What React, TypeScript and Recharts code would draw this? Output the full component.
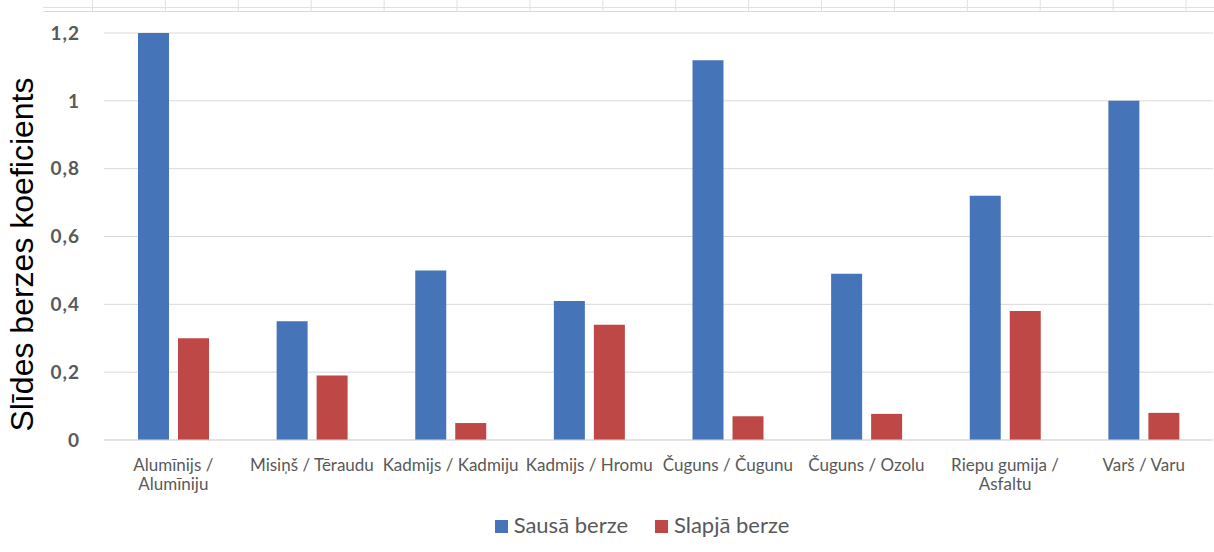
import { Bar, BarChart, CartesianGrid, Label, Legend, XAxis, YAxis } from "recharts"

const categories = [
  "Alumīnijs / Alumīniju",
  "Misiņš / Tēraudu",
  "Kadmijs / Kadmiju",
  "Kadmijs / Hromu",
  "Čuguns / Čugunu",
  "Čuguns / Ozolu",
  "Riepu gumija / Asfaltu",
  "Varš / Varu",
]
const sausa = [1.2, 0.35, 0.5, 0.41, 1.12, 0.49, 0.72, 1.0]
const slapja = [0.3, 0.19, 0.05, 0.34, 0.07, 0.077, 0.38, 0.08]
const yTicks = [0, 0.2, 0.4, 0.6, 0.8, 1, 1.2]
const seriesNames = ["Sausā berze", "Slapjā berze"]
const colors = ["#4574B8", "#BD4845"]

const data = categories.map((name, i) => ({ name, sausa: sausa[i], slapja: slapja[i] }))

const font = "Lato, 'Open Sans', sans-serif"

// spreadsheet cell lines peeking in at the top of the screenshot
const cellCols = Array.from({ length: 16 }, (_, i) => i)

function CategoryTick(props: any) {
  const { x, y, payload } = props
  const label: string = payload.value
  let lines = [label]
  if (label.length > 18) {
    const idx = label.indexOf("/ ")
    lines = [label.slice(0, idx + 1), label.slice(idx + 2)]
  }
  return (
    <text x={x} y={y + 29} textAnchor="middle" fill="#595959" fontSize={17} fontFamily={font}>
      {lines.map((l, i) => (
        <tspan key={i} x={x} dy={i === 0 ? 0 : 19}>
          {l}
        </tspan>
      ))}
    </text>
  )
}

function LegendBox() {
  return (
    <div
      style={{
        width: 1214,
        height: 50,
        display: "flex",
        justifyContent: "center",
        alignItems: "flex-start",
        paddingLeft: 70,
        paddingTop: 9,
        boxSizing: "border-box",
        fontFamily: font,
        fontSize: 22,
        color: "#595959",
      }}
    >
      {seriesNames.map((n, i) => (
        <div key={n} style={{ display: "flex", alignItems: "center", marginLeft: i ? 27 : 0 }}>
          <span
            style={{ width: 13, height: 13, background: colors[i], marginRight: 6, marginTop: 3 }}
          />
          <span>{n}</span>
        </div>
      ))}
    </div>
  )
}

export default function App() {
  return (
    <div style={{ position: "relative", width: 1214, height: 552, background: "#fff" }}>
      <style>{"body{margin:0}"}</style>
      <svg width={1214} height={14} style={{ position: "absolute", left: 0, top: 0 }}>
        <line x1={43} x2={1214} y1={7.5} y2={7.5} stroke="#e0e0e0" />
        <line x1={43} x2={1214} y1={11.5} y2={11.5} stroke="#dadada" />
        {cellCols.map((k) => (
          <line key={k} x1={92.5 + k * 72.9} x2={92.5 + k * 72.9} y1={0} y2={11} stroke="#e0e0e0" />
        ))}
      </svg>
      <BarChart
        width={1214}
        height={552}
        data={data}
        margin={{ top: 33, right: 1, left: 0, bottom: 0 }}
        barSize={31}
        barGap={9}
      >
        <CartesianGrid vertical={false} stroke="#d9d9d9" />
        <XAxis
          dataKey="name"
          height={62}
          axisLine={{ stroke: "#d9d9d9" }}
          tickLine={false}
          tickSize={0}
          tick={<CategoryTick />}
          interval={0}
        />
        <YAxis
          width={104}
          domain={[0, 1.2]}
          ticks={yTicks}
          axisLine={false}
          tickLine={false}
          tickSize={0}
          tickMargin={24}
          tick={{ fill: "#595959", fontSize: 19, fontWeight: 700, fontFamily: font, letterSpacing: 1 }}
          tickFormatter={(v) => `${v}`.replace(".", ",")}
        >
          <Label
            content={(p: any) => {
              const vb = p.viewBox
              const cx = vb.x + 33
              const cy = vb.y + vb.height / 2 + 18
              return (
                <text
                  x={cx}
                  y={cy}
                  transform={`rotate(-90, ${cx}, ${cy})`}
                  textAnchor="middle"
                  fontSize={32}
                  fontFamily="'Liberation Sans', Arial, sans-serif"
                  fill="#000"
                >
                  Slīdes berzes koeficients
                </text>
              )
            }}
          />
        </YAxis>
        <Legend verticalAlign="bottom" height={50} content={<LegendBox />} />
        <Bar dataKey="sausa" name={seriesNames[0]} fill={colors[0]} isAnimationActive={false} />
        <Bar dataKey="slapja" name={seriesNames[1]} fill={colors[1]} isAnimationActive={false} />
      </BarChart>
    </div>
  )
}
